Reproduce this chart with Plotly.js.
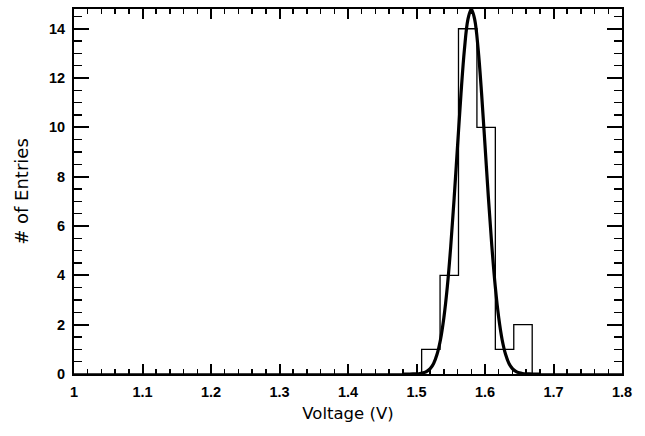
<!DOCTYPE html>
<html>
<head>
<meta charset="utf-8">
<script src="https://cdn.plot.ly/plotly-3.0.1.min.js"></script>
<style>html,body{margin:0;padding:0;background:#fff;}#chart{width:645px;height:436px;}</style>
</head>
<body>
<div id="chart"></div>
<script>
// Histogram: bin edges (V) and entries per bin
const binEdges = [1.5075, 1.5344, 1.5613, 1.5882, 1.6151, 1.6420, 1.6689];
const binCounts = [1, 4, 14, 10, 1, 2];

// Fitted curve
const fitX = [1.480,1.485,1.490,1.495,1.500,1.505,1.510,1.515,1.520,1.525,1.530,1.535,1.540,1.545,1.550,1.555,1.560,1.565,1.570,1.575,1.580,1.585,1.590,1.595,1.600,1.605,1.610,1.615,1.620,1.625,1.630,1.635,1.640,1.645,1.650,1.655,1.660,1.665,1.670,1.675,1.680];
const fitY = [0,0,0.001,0.003,0.008,0.021,0.049,0.107,0.22,0.43,0.80,1.39,2.29,3.54,5.18,7.14,9.28,11.38,13.17,14.37,14.80,14.37,13.17,11.38,9.28,7.14,5.18,3.54,2.29,1.39,0.80,0.43,0.22,0.107,0.049,0.021,0.008,0.003,0.001,0,0];

// Tick labels
const xTickVals = [1, 1.1, 1.2, 1.3, 1.4, 1.5, 1.6, 1.7, 1.8];
const xTickText = ['1', '1.1', '1.2', '1.3', '1.4', '1.5', '1.6', '1.7', '1.8'];
const yTickVals = [0, 2, 4, 6, 8, 10, 12, 14];
const yTickText = ['0', '2', '4', '6', '8', '10', '12', '14'];

const xTitle = 'Voltage (V)';
const yTitle = '# of Entries';

// build step outline from edges/counts
const stepX = [1.0].concat(binEdges).concat([1.8]);
const stepY = [0].concat(binCounts).concat([0, 0]);

const traces = [
  {x: stepX, y: stepY, type: 'scatter', mode: 'lines', line: {shape: 'hv', color: '#000', width: 1.3}, hoverinfo: 'skip'},
  {x: fitX, y: fitY, type: 'scatter', mode: 'lines', line: {shape: 'spline', color: '#000', width: 3.2}, hoverinfo: 'skip'}
];

const tickFont = {family: 'Liberation Sans, Arial, sans-serif', size: 14.5, color: '#000', weight: 'bold'};

const layout = {
  width: 645, height: 436,
  margin: {l: 74, r: 23, t: 9, b: 62},
  paper_bgcolor: '#fff', plot_bgcolor: '#fff',
  showlegend: false,
  xaxis: {
    range: [1, 1.8], tickmode: 'array', tickvals: xTickVals, ticktext: xTickText,
    ticks: 'inside', ticklen: 10, tickwidth: 2, tickcolor: '#000',
    showline: true, linecolor: '#000', linewidth: 2, mirror: 'allticks',
    showgrid: false, zeroline: false,
    tickfont: tickFont, ticklabelstandoff: 4,
    minor: {dtick: 0.02, tick0: 1, ticks: 'inside', ticklen: 5, tickwidth: 1.5, tickcolor: '#000', showgrid: false},
    title: {text: xTitle, font: {family: 'DejaVu Sans, Verdana, sans-serif', size: 16.5, color: '#000'}, standoff: 8}
  },
  yaxis: {
    range: [0, 14.8], tickmode: 'array', tickvals: yTickVals, ticktext: yTickText,
    ticks: 'inside', ticklen: 15, tickwidth: 2, tickcolor: '#000',
    showline: true, linecolor: '#000', linewidth: 2, mirror: 'allticks',
    showgrid: false, zeroline: false,
    tickfont: tickFont, ticklabelstandoff: 4,
    minor: {dtick: 0.5, tick0: 0, ticks: 'inside', ticklen: 8, tickwidth: 1.5, tickcolor: '#000', showgrid: false},
    title: {text: yTitle, font: {family: 'DejaVu Sans, Verdana, sans-serif', size: 18, color: '#000'}, standoff: 16}
  }
};

Plotly.newPlot('chart', traces, layout, {staticPlot: true, displayModeBar: false});
</script>
</body>
</html>
